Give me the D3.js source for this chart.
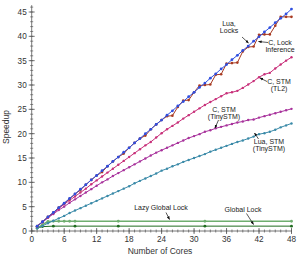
<!DOCTYPE html>
<html><head><meta charset="utf-8">
<script src="https://cdn.jsdelivr.net/npm/d3@7/dist/d3.min.js"></script>
<style>
html,body{margin:0;padding:0;background:#fff;}
svg{display:block;font-family:"Liberation Sans",Arial,sans-serif;}
</style></head>
<body><svg id="c" width="307" height="258"></svg>
<script>
// ---- data ----
const cores = d3.range(1, 49);
const luaLocks = [1.0,1.9,2.9,3.8,4.8,5.7,6.7,7.6,8.6,9.5,10.5,11.4,12.4,13.3,14.3,15.2,16.2,17.1,18.1,19.0,20.0,20.9,21.9,22.8,23.8,24.7,25.7,26.6,27.6,28.5,29.5,30.4,31.4,32.3,33.3,34.2,35.2,36.1,37.1,38.0,39.0,39.9,40.9,41.8,42.8,43.7,44.6,45.6];
const cLockInf = [1.0,1.9,2.9,3.8,4.8,5.7,6.6,7.6,8.4,9.5,10.5,11.4,12.1,13.3,14.3,15.2,15.9,17.1,18.1,19.0,19.6,20.9,21.9,22.8,23.6,23.7,25.5,26.8,26.9,28.5,29.9,30.0,30.1,32.1,32.2,34.4,34.5,34.6,36.9,37.8,37.9,40.3,40.4,40.4,42.2,44.0,44.0,44.0];
const cStmTL2 = [1.0,1.9,2.8,3.7,4.6,5.5,6.3,7.1,7.9,8.7,9.6,10.4,11.2,12.0,12.8,13.6,14.4,15.2,16.0,16.8,17.6,18.3,19.2,20.1,20.9,21.6,22.3,23.1,23.8,24.5,25.2,25.9,26.5,27.1,27.7,28.3,28.5,28.8,29.4,30.1,30.8,31.6,32.2,32.5,33.4,34.2,35.0,35.7];
const cStmTiny = [1.0,1.8,2.7,3.5,4.3,5.0,5.8,6.5,7.2,7.9,8.6,9.3,10.0,10.6,11.3,11.9,12.5,13.1,13.7,14.3,14.9,15.5,16.1,16.6,17.1,17.6,18.1,18.6,19.1,19.5,19.9,20.4,20.7,21.1,21.4,21.7,22.0,22.3,22.5,22.8,22.9,23.3,23.6,23.9,24.2,24.5,24.8,25.1];
const luaStm = [0.55,1.05,1.6,2.1,2.6,3.1,3.7,4.2,4.7,5.2,5.7,6.2,6.7,7.2,7.7,8.2,8.7,9.2,9.8,10.3,10.8,11.3,11.8,12.4,12.8,13.3,13.7,14.2,14.6,15.0,15.4,15.8,16.3,16.7,17.1,17.5,17.9,18.3,18.6,19.0,19.4,19.9,20.1,20.4,20.8,21.3,21.7,22.1];
const lazyCores = [1,2,3,4,5,6,7,8,16,32,48];
const lazyGlobal = [0.6,1.3,1.95,2.0,2.0,2.0,2.0,2.0,2.0,2.0,2.0];
const globalCores = [1,2,4,8,16,32,48];
const globalLock = [0.6,0.9,1.0,1.0,1.0,1.0,1.0];
const xTicks = [0,6,12,18,24,30,36,42,48];
const yTicks = [0,5,10,15,20,25,30,35,40,45];

const svg = d3.select("#c");
const x = d3.scaleLinear().domain([0,48]).range([31.7,291.5]);
const y = d3.scaleLinear().domain([0,45]).range([231,12]);

// axes
const axisCol = "#555";
const g = svg.append("g");
g.selectAll(".ym").data(d3.range(0,47)).join("line")
  .attr("x1", x(0)-1.5).attr("x2", x(0)+1.5)
  .attr("y1", d=>y(d)).attr("y2", d=>y(d)).attr("stroke", axisCol).attr("stroke-width",0.7);
g.selectAll(".yM").data(yTicks).join("line")
  .attr("x1", x(0)-3).attr("x2", x(0)+3)
  .attr("y1", d=>y(d)).attr("y2", d=>y(d)).attr("stroke", axisCol).attr("stroke-width",0.8);
g.selectAll(".xm").data(d3.range(0,49)).join("line")
  .attr("y1", y(0)-1.5).attr("y2", y(0)+1.5)
  .attr("x1", d=>x(d)).attr("x2", d=>x(d)).attr("stroke", axisCol).attr("stroke-width",0.7);
g.selectAll(".xM").data(xTicks).join("line")
  .attr("y1", y(0)-3).attr("y2", y(0)+3)
  .attr("x1", d=>x(d)).attr("x2", d=>x(d)).attr("stroke", axisCol).attr("stroke-width",0.8);
g.append("line").attr("x1",x(0)).attr("x2",x(0)).attr("y1",y(0)).attr("y2",y(46.4)).attr("stroke",axisCol).attr("stroke-width",0.8);
g.append("line").attr("x1",x(0)).attr("x2",x(48)).attr("y1",y(0)).attr("y2",y(0)).attr("stroke",axisCol).attr("stroke-width",0.8);

g.selectAll(".yl").data(yTicks).join("text")
  .attr("x", x(0)-5).attr("y", d=>y(d)+3).attr("text-anchor","end")
  .attr("font-size",8.2).attr("fill","#333").text(d=>d);
g.selectAll(".xl").data(xTicks).join("text")
  .attr("x", d=>x(d)).attr("y", y(0)+11).attr("text-anchor","middle")
  .attr("font-size",8.2).attr("fill","#333").text(d=>d);

svg.append("text").attr("x",160).attr("y",254).attr("text-anchor","middle")
  .attr("font-size",8.5).attr("fill","#333").text("Number of Cores");
svg.append("text").attr("transform","translate(9,127) rotate(-90)").attr("text-anchor","middle")
  .attr("font-size",8.5).attr("fill","#333").text("Speedup");

// series
const series = [
  {xs: globalCores, ys: globalLock, col:"#1f6b1f", r:1.4},
  {xs: lazyCores, ys: lazyGlobal, col:"#6fae6f", r:1.4, w:1.6},
  {xs: cores, ys: luaStm, col:"#3a8aa8", r:1.2},
  {xs: cores, ys: cStmTiny, col:"#a8329c", r:1.2},
  {xs: cores, ys: cStmTL2, col:"#c8307a", r:1.2},
  {xs: cores, ys: cLockInf, col:"#a83a22", r:1.3},
  {xs: cores, ys: luaLocks, col:"#2f4fe0", r:1.4},
];
const line = d3.line().x(d=>x(d[0])).y(d=>y(d[1]));
series.forEach(s=>{
  const pts = s.xs.map((c,i)=>[c, s.ys[i]]);
  svg.append("path").datum(pts).attr("d", line).attr("fill","none")
    .attr("stroke", s.col).attr("stroke-width", s.w||1);
  svg.append("g").selectAll("circle").data(pts).join("circle")
    .attr("cx", d=>x(d[0])).attr("cy", d=>y(d[1])).attr("r", s.r).attr("fill", s.col);
});

// annotations
const notes = [
  {lines:["Lua,","Locks"], x:229, y:26, a:[242,37,248.5,43]},
  {lines:["C, Lock","Inference"], x:280, y:45, a:[268,42.5,258.5,41.5]},
  {lines:["C, STM","(TL2)"], x:279, y:84, a:[267,81.5,260,78]},
  {lines:["C, STM","(TinySTM)"], x:224, y:112, a:[218.5,120,215,128]},
  {lines:["Lua, STM","(TinySTM)"], x:269, y:144, a:[258.5,139,254.5,133]},
  {lines:["Lazy Global Lock"], x:161, y:210, a:[166,212.5,169.5,219.5]},
  {lines:["Global Lock"], x:243, y:212, a:[246.5,213.5,253.5,224.5]},
];
const defs = svg.append("defs");
defs.append("marker").attr("id","ah").attr("viewBox","0 0 10 10").attr("refX",9).attr("refY",5)
  .attr("markerWidth",5).attr("markerHeight",5).attr("orient","auto")
  .append("path").attr("d","M0,1 L10,5 L0,9 z").attr("fill","#111");
notes.forEach(n=>{
  const t = svg.append("text").attr("x",n.x).attr("y",n.y).attr("text-anchor","middle")
    .attr("font-size",7).attr("fill","#222");
  n.lines.forEach((l,i)=>t.append("tspan").attr("x",n.x).attr("dy", i?7.2:0).text(l));
  svg.append("line").attr("x1",n.a[0]).attr("y1",n.a[1]).attr("x2",n.a[2]).attr("y2",n.a[3])
    .attr("stroke","#111").attr("stroke-width",0.7).attr("marker-end","url(#ah)");
});
</script></body></html>
